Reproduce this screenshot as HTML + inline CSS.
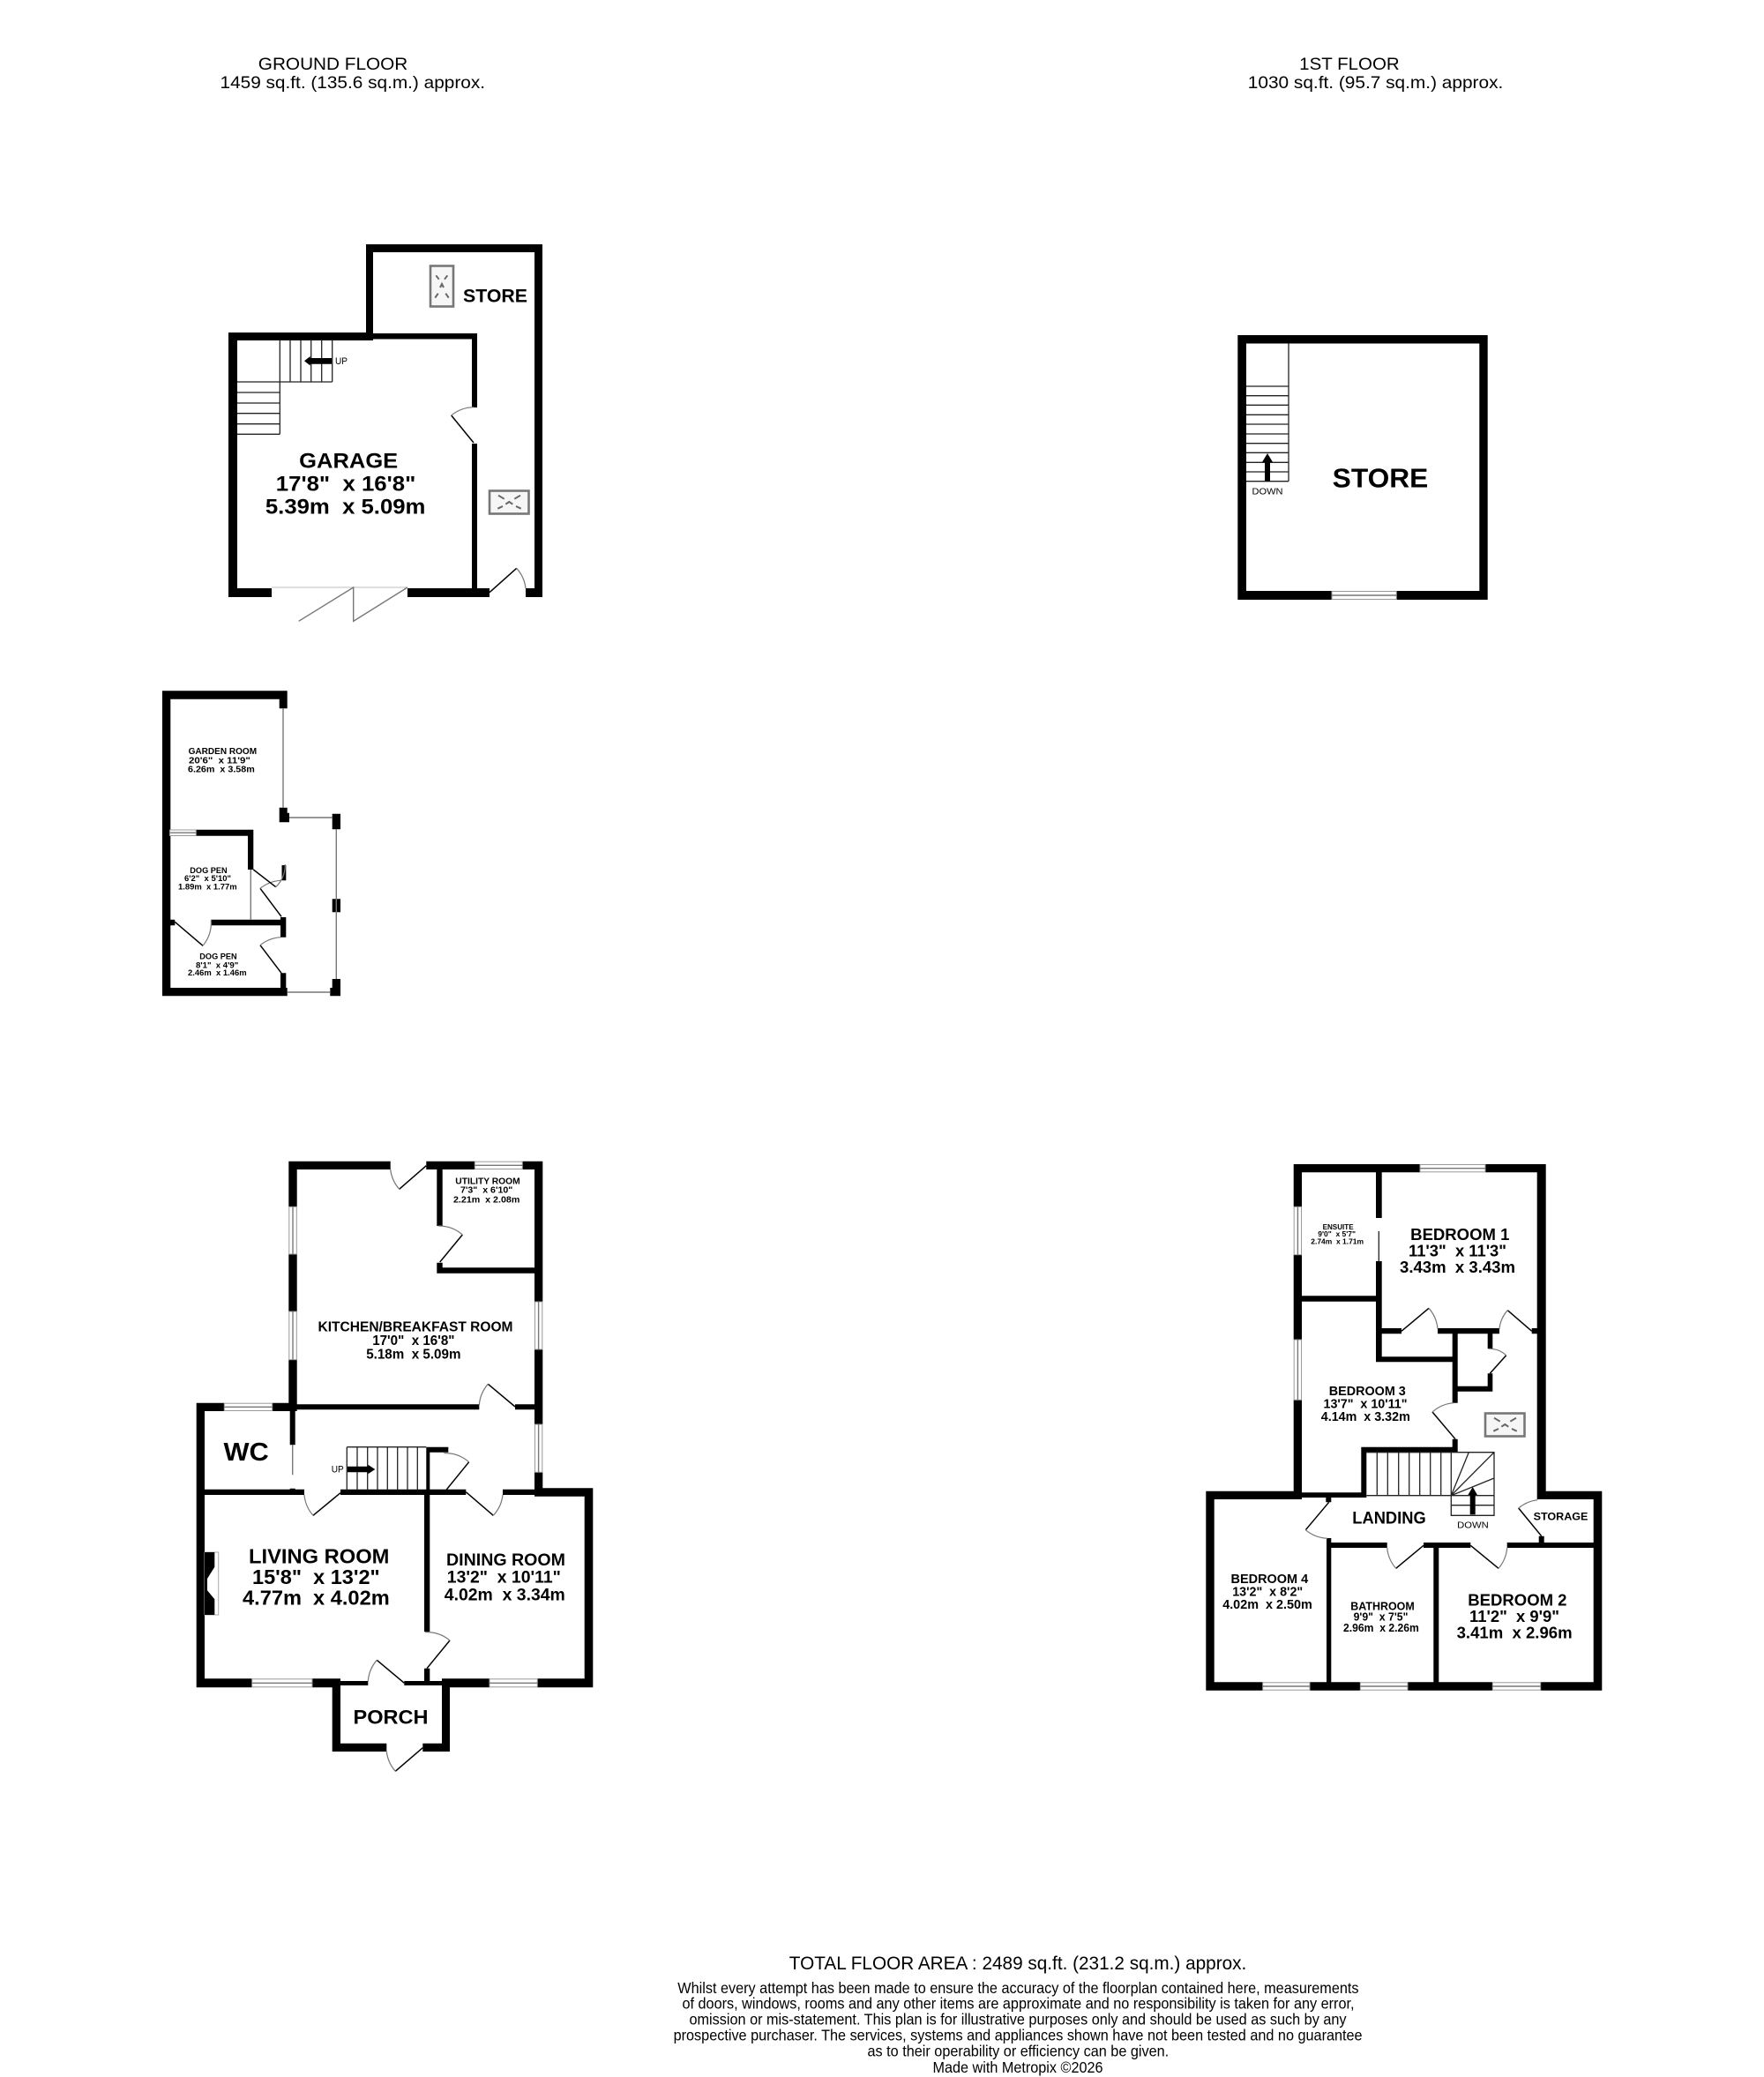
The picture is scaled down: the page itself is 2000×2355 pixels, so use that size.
<!DOCTYPE html>
<html><head><meta charset="utf-8"><title>Floor plan</title>
<style>
html,body{margin:0;padding:0;background:#fff}
svg{display:block}
text{font-family:"Liberation Sans",sans-serif;fill:#000;white-space:pre}
.b text,text.b{font-weight:bold}
.w{fill:#000}
.g{stroke:#8a8a8a;stroke-width:1.5;fill:none}
.l{stroke:#000;stroke-width:1.5;fill:none}
.a{stroke:#777;stroke-width:1.2;fill:none}
.s{stroke:#222;stroke-width:1.3;fill:none}
.win{fill:#fff;stroke:#999;stroke-width:1}
.sk{fill:#f6f6f6;stroke:#777;stroke-width:2.6}
.d{stroke:#777;stroke-width:1.4;fill:none}
.e{stroke:#666;stroke-width:2;fill:none}
.f{stroke:#ccc;stroke-width:1.2;fill:none}
</style></head><body>
<svg width="2000" height="2355" viewBox="0 0 2000 2355" xmlns="http://www.w3.org/2000/svg">
<rect width="2000" height="2355" fill="#fff"/>

<!-- Titles -->
<text x="292.8" y="79" font-size="19.5" textLength="169.5" lengthAdjust="spacingAndGlyphs">GROUND FLOOR</text>
<text x="249.5" y="100" font-size="19.5" textLength="300.5" lengthAdjust="spacingAndGlyphs">1459 sq.ft. (135.6 sq.m.) approx.</text>
<text x="1473.2" y="79" font-size="19.5" textLength="113.5" lengthAdjust="spacingAndGlyphs">1ST FLOOR</text>
<text x="1414.8" y="100" font-size="19.5" textLength="289.5" lengthAdjust="spacingAndGlyphs">1030 sq.ft. (95.7 sq.m.) approx.</text>

<!-- Garage / Store ground -->
<path class="w" d="M259 377H269V677H259Z M259 377H423V386H259Z M415 277H423V386H415Z M415 277H615V286H415Z M606 277H615V677H606Z M423 378H541V384.5H423Z M535 378H541V462H535Z M535 503H541V677H535Z M259 667H308V677H259Z M462 667H555V677H462Z M596 667H615V677H596Z"/>
<path class="s" d="M317.3 385V492.3M329 385V433M341 385V433M352.7 385V433M364.7 385V433M376.7 385V433M269 433H376.7M269 445H317.3M269 457H317.3M269 468.7H317.3M269 480.7H317.3M269 492.3H317.3"/>
<path class="w" d="M376 406V412.7H351.7V414.5L345 409.3L351.7 404V406Z"/>
<text x="380" y="413" font-size="11" textLength="14" lengthAdjust="spacingAndGlyphs">UP</text>
<path class="l" d="M537 502L511.7 471"/><path class="a" d="M511.7 471A41 41 0 0 1 537 461.7"/>
<path class="l" d="M555 671.7L585.7 644.3"/><path class="a" d="M585.7 644.3A41 41 0 0 1 596 667"/>
<path class="f" d="M308 666H462"/>
<path class="d" d="M462 666L400.7 704.3V666L338.7 704.3"/>
<g><rect class="sk" x="488" y="301.5" width="26" height="46"/>
<path class="e" d="M494.3 312.3L497.7 316.7M507.3 312.3L504 316.7M493.3 337.7L496.7 332.7M508.7 337.7L505.3 332.7M499 326L501 322L503 326"/></g>
<g><rect class="sk" x="555" y="556.5" width="44.5" height="26"/>
<path class="e" d="M565 561.7L571.7 565.7M590 561.7L583.3 565.7M564.3 576.7L570 574M590.7 576.7L585 574M573.3 571.7L577.3 569L581.3 571.7"/></g>
<g class="b">
<text x="339.2" y="530.7" font-size="24" textLength="112" lengthAdjust="spacingAndGlyphs">GARAGE</text>
<text x="312.8" y="556.7" font-size="24" textLength="158.5" lengthAdjust="spacingAndGlyphs">17'8&quot;  x 16'8&quot;</text>
<text x="300.9" y="582.3" font-size="24" textLength="181.5" lengthAdjust="spacingAndGlyphs">5.39m  x 5.09m</text>
<text x="525" y="342.7" font-size="21" textLength="73" lengthAdjust="spacingAndGlyphs">STORE</text>
</g>

<!-- Garden room -->
<path class="w" d="M184 783.3H193.3V1129.3H184Z M184 783.3H325.7V792.7H184Z M316.7 783.3H325.7V803.3H316.7Z M316.7 915.7H325.7V921.7H328V932.3H316.7Z M376.7 922.7H386V940.3H376.7Z M376.7 1019.3H386V1034.3H376.7Z M376.7 1110H386V1129.3H374.3V1120H376.7Z M184 1120H325.7V1129.3H184Z M222.3 940.7H287.3V947.7H222.3Z M281 940.7H287.3V986H281Z M239.3 1042.7H318V1049.3H239.3Z M193 1042.7H198.3V1049.3H193Z M318 1040H324.3V1062.7H318Z M318 1103.3H324.3V1120H318Z M319.5 981H324.3V998.3H319.5Z"/>
<path class="d" d="M321 803V916M328 927H376.7M381.3 940V1110M325.7 1125H374M284.3 986V1043"/>
<rect class="win" x="192.5" y="941" width="29.8" height="6.5"/><path class="d" d="M192.5 944.2H222"/>
<path class="l" d="M198.3 1045.3L230 1072.3"/><path class="a" d="M230 1072.3A41 41 0 0 0 239.3 1043.3"/>
<path class="l" d="M319 1039.3L295 1007.3"/><path class="a" d="M295 1007.3A41 41 0 0 1 318.3 998.3"/>
<path class="l" d="M287.3 986L312.7 1005.7"/><path class="a" d="M312.7 1005.7A34 34 0 0 0 323.3 980"/>
<path class="l" d="M319 1103.3L295 1071.7"/><path class="a" d="M295 1071.7A41 41 0 0 1 318.3 1062.7"/>
<g class="b">
<text x="213.6" y="855" font-size="10.5" textLength="77.5" lengthAdjust="spacingAndGlyphs">GARDEN ROOM</text>
<text x="214" y="865.5" font-size="10.5" textLength="69.8" lengthAdjust="spacingAndGlyphs">20'6&quot;  x 11'9&quot;</text>
<text x="213" y="875.7" font-size="10.5" textLength="75.8" lengthAdjust="spacingAndGlyphs">6.26m  x 3.58m</text>
<text x="215.3" y="990" font-size="9.5" textLength="42.4" lengthAdjust="spacingAndGlyphs">DOG PEN</text>
<text x="209" y="999" font-size="9.5" textLength="53" lengthAdjust="spacingAndGlyphs">6'2&quot;  x 5'10&quot;</text>
<text x="202" y="1008.3" font-size="9.5" textLength="66.6" lengthAdjust="spacingAndGlyphs">1.89m  x 1.77m</text>
<text x="226.3" y="1087.7" font-size="9.5" textLength="42.4" lengthAdjust="spacingAndGlyphs">DOG PEN</text>
<text x="222" y="1097.3" font-size="9.5" textLength="48.3" lengthAdjust="spacingAndGlyphs">8'1&quot;  x 4'9&quot;</text>
<text x="213" y="1106" font-size="9.5" textLength="66.6" lengthAdjust="spacingAndGlyphs">2.46m  x 1.46m</text>
</g>

<!-- Main house ground -->
<path class="w" d="M327.3 1316.7H336.7V1368.3H327.3Z M327.3 1422H336.7V1487H327.3Z M327.3 1541.7H336.7V1600H327.3Z M327.3 1316.7H442.7V1326H327.3Z M483.3 1316.7H538.3V1326H483.3Z M592.3 1316.7H615.3V1326H592.3Z M606 1316.7H615.3V1476H606Z M606 1530H615.3V1615H606Z M606 1669.3H615.3V1696.7H606Z M495.3 1316.7H501.7V1390H495.3Z M495.3 1431.7H501.7V1443.7H495.3Z M495.3 1437.3H606V1443.7H495.3Z M336.7 1592.3H543.3V1598.3H336.7Z M584 1592.3H606V1598.3H584Z M222.7 1590.7H232V1913.3H222.7Z M222.7 1590.7H254.3V1600H222.7Z M308.7 1590.7H327.3V1600H308.7Z M328.7 1598H334.7V1638.3H328.7Z M328.7 1687.7H334.7V1692H328.7Z M232 1688.7H345V1695H232Z M386 1688.7H528.3V1695H386Z M570 1688.7H606.7V1695H570Z M483.3 1640.7H487.3V1690H483.3Z M483.3 1640.7H508.3V1646.7H483.3Z M222.7 1903.3H285.7V1913.3H222.7Z M354 1903.3H386V1913.3H354Z M386 1906H417.3V1911H386Z M458.3 1906H501.7V1911H458.3Z M501 1903.3H555V1913.3H501Z M609.3 1903.3H672.3V1913.3H609.3Z M662.7 1687.3H672.3V1913.3H662.7Z M606 1687.3H672.3V1696.7H606Z M481 1690H487.3V1850H481Z M481 1891.7H487.3V1908H481Z M376.7 1906H386V1986H376.7Z M501 1906H510V1986H501Z M376.7 1976.7H438.3V1986H376.7Z M479.3 1976.7H510V1986H479.3Z"/>
<!-- windows -->
<g>
<rect class="win" x="327.8" y="1368.3" width="8.5" height="53.7"/><path class="d" d="M332 1368.3V1422"/>
<rect class="win" x="327.8" y="1487" width="8.5" height="54.7"/><path class="d" d="M332 1487V1541.7"/>
<rect class="win" x="538.3" y="1317.2" width="54" height="8.3"/><path class="d" d="M538.3 1321.3H592.3"/>
<rect class="win" x="606.5" y="1476" width="8.3" height="54"/><path class="d" d="M610.6 1476V1530"/>
<rect class="win" x="606.5" y="1615" width="8.3" height="54.3"/><path class="d" d="M610.6 1615V1669.3"/>
<rect class="win" x="254.3" y="1591.2" width="54.4" height="8.3"/><path class="d" d="M254.3 1595.3H308.7"/>
<rect class="win" x="285.7" y="1903.8" width="68.3" height="9"/><path class="d" d="M285.7 1908.3H354"/>
<rect class="win" x="555" y="1903.8" width="54.3" height="9"/><path class="d" d="M555 1908.3H609.3"/>
</g>
<path class="d" d="M331.7 1638V1672.3"/>
<path class="s" d="M393.3 1640.7H483.3M393.3 1640.7V1690M405 1640.7V1690M416.7 1640.7V1690M428 1640.7V1690M439.3 1640.7V1690M450.7 1640.7V1690M462 1640.7V1690M473.3 1640.7V1690"/>
<path class="w" d="M394 1662.7H417.3V1660.7L425.3 1666L417.3 1671.3V1669.3H394Z"/>
<text x="375.7" y="1669.5" font-size="11" textLength="14" lengthAdjust="spacingAndGlyphs">UP</text>
<path class="l" d="M483.3 1321.7L452.7 1348.3"/><path class="a" d="M452.7 1348.3A41 41 0 0 1 442.7 1326"/>
<path class="l" d="M498.7 1431L524.3 1400"/><path class="a" d="M524.3 1400A41 41 0 0 0 496.7 1390"/>
<path class="l" d="M584 1595L553.3 1569.3"/><path class="a" d="M553.3 1569.3A41 41 0 0 0 543.3 1593.3"/>
<path class="l" d="M386 1692.7L355 1718.3"/><path class="a" d="M355 1718.3A41 41 0 0 1 345 1695"/>
<path class="l" d="M506 1689.3L531.7 1657.7"/><path class="a" d="M531.7 1657.7A41 41 0 0 0 503.3 1647.7"/>
<path class="l" d="M528.3 1691.7L559.3 1718.3"/><path class="a" d="M559.3 1718.3A41 41 0 0 0 570 1695"/>
<path class="l" d="M484 1891.7L510 1860"/><path class="a" d="M510 1860A41 41 0 0 0 481.7 1850.7"/>
<path class="l" d="M458.3 1908.3L427.3 1882.3"/><path class="a" d="M427.3 1882.3A41 41 0 0 0 417.3 1906"/>
<path class="l" d="M479.3 1981.7L448.3 2008.3"/><path class="a" d="M448.3 2008.3A41 41 0 0 1 438.3 1986"/>
<rect x="232" y="1760" width="15.7" height="71" fill="#fff" stroke="#aaa" stroke-width="1"/>
<path class="w" d="M232 1760H243.3V1776.7L235 1790V1803.3L243.3 1813.3V1831H232Z"/>
<g class="b">
<text x="360.5" y="1509.3" font-size="15.5" textLength="221" lengthAdjust="spacingAndGlyphs">KITCHEN/BREAKFAST ROOM</text>
<text x="422.2" y="1525" font-size="15.5" textLength="93.3" lengthAdjust="spacingAndGlyphs">17'0&quot;  x 16'8&quot;</text>
<text x="415.2" y="1540.7" font-size="15.5" textLength="107.3" lengthAdjust="spacingAndGlyphs">5.18m  x 5.09m</text>
<text x="516.3" y="1342.7" font-size="10.5" textLength="73.4" lengthAdjust="spacingAndGlyphs">UTILITY ROOM</text>
<text x="522" y="1352.7" font-size="10.5" textLength="59.3" lengthAdjust="spacingAndGlyphs">7'3&quot;  x 6'10&quot;</text>
<text x="514" y="1363.3" font-size="10.5" textLength="75.3" lengthAdjust="spacingAndGlyphs">2.21m  x 2.08m</text>
<text x="253.5" y="1656" font-size="29" textLength="51.3" lengthAdjust="spacingAndGlyphs">WC</text>
<text x="282" y="1772.7" font-size="23" textLength="159.4" lengthAdjust="spacingAndGlyphs">LIVING ROOM</text>
<text x="286" y="1796" font-size="23" textLength="144.7" lengthAdjust="spacingAndGlyphs">15'8&quot;  x 13'2&quot;</text>
<text x="275" y="1819.3" font-size="23" textLength="166.7" lengthAdjust="spacingAndGlyphs">4.77m  x 4.02m</text>
<text x="506" y="1775" font-size="19.5" textLength="135" lengthAdjust="spacingAndGlyphs">DINING ROOM</text>
<text x="506.8" y="1794.7" font-size="19.5" textLength="129" lengthAdjust="spacingAndGlyphs">13'2&quot;  x 10'11&quot;</text>
<text x="503.8" y="1814.3" font-size="19.5" textLength="137" lengthAdjust="spacingAndGlyphs">4.02m  x 3.34m</text>
<text x="400.5" y="1954.3" font-size="22" textLength="85" lengthAdjust="spacingAndGlyphs">PORCH</text>
</g>

<!-- First floor store -->
<path class="w" d="M1403.3 380H1686.7V389.5H1403.3Z M1403.3 380H1413V680H1403.3Z M1677.3 380H1686.7V680H1677.3Z M1403.3 670H1510V680H1403.3Z M1583.3 670H1686.7V680H1583.3Z"/>
<rect class="win" x="1510" y="670.5" width="73.3" height="9"/><path class="d" d="M1510 675H1583.3"/>
<path class="s" d="M1461 389.5V545.7M1413 438H1461M1413 448.7H1461M1413 459.3H1461M1413 470.3H1461M1413 481H1461M1413 492H1461M1413 502.7H1461M1413 513.3H1461M1413 524.3H1461M1413 535H1461M1413 545.7H1461"/>
<path class="w" d="M1434 545.7V524H1431L1437 514L1443 524H1440V545.7Z"/>
<text x="1419.5" y="560.3" font-size="10.5" textLength="35" lengthAdjust="spacingAndGlyphs">DOWN</text>
<text class="b" x="1510.7" y="552.7" font-size="31" textLength="108.6" lengthAdjust="spacingAndGlyphs">STORE</text>

<!-- First floor main -->
<path class="w" d="M1466.7 1320H1610V1329.3H1466.7Z M1684 1320H1752.7V1329.3H1684Z M1466.7 1320H1476V1368.3H1466.7Z M1466.7 1422.7H1476V1519H1466.7Z M1466.7 1587.3H1476V1700H1466.7Z M1742.7 1320H1752.7V1700H1742.7Z M1560 1329H1566.7V1381H1560Z M1560 1430H1566.7V1544.3H1560Z M1476 1469.3H1560V1475.7H1476Z M1566.7 1506H1589V1512.3H1566.7Z M1630 1506H1700V1512.3H1630Z M1736.7 1506H1742.7V1512.3H1736.7Z M1560 1538.3H1652.7V1544.3H1560Z M1646.7 1506H1652.7V1590.7H1646.7Z M1646.7 1631.7H1652.7V1646.7H1646.7Z M1652.7 1571.7H1692.3V1577.7H1652.7Z M1686.7 1512H1692.3V1529.3H1686.7Z M1686.7 1557.3H1692.3V1577.7H1686.7Z M1543.3 1640.7H1652.7V1646.7H1543.3Z M1543.3 1640.7H1549.3V1698H1543.3Z M1466.7 1692.3H1549.3V1698H1466.7Z M1367.3 1690.7H1476V1700H1367.3Z M1367.3 1690.7H1376.7V1916.7H1367.3Z M1367.3 1907.3H1431.7V1916.7H1367.3Z M1485 1907.3H1542.3V1916.7H1485Z M1596 1907.3H1692.3V1916.7H1596Z M1746.7 1907.3H1816.3V1916.7H1746.7Z M1806.7 1690.7H1816.3V1916.7H1806.7Z M1752.7 1690.7H1816.3V1700H1752.7Z M1504 1749H1572.7V1755H1504Z M1614 1749H1667.3V1755H1614Z M1708.7 1749H1806.7V1755H1708.7Z M1504 1744H1509.3V1907.3H1504Z M1625.3 1749H1631.3V1907.3H1625.3Z M1503.3 1697.3H1509.3V1703.3H1503.3Z M1744.7 1741.7H1750.7V1749H1744.7Z"/>
<g>
<rect class="win" x="1610" y="1320.5" width="74" height="8.3"/><path class="d" d="M1610 1324.7H1684"/>
<rect class="win" x="1467.2" y="1368.3" width="8.3" height="54.4"/><path class="d" d="M1471.4 1368.3V1422.7"/>
<rect class="win" x="1467.2" y="1519" width="8.3" height="68.3"/><path class="d" d="M1471.4 1519V1587.3"/>
<rect class="win" x="1431.7" y="1907.8" width="53.3" height="8.4"/><path class="d" d="M1431.7 1912H1485"/>
<rect class="win" x="1542.3" y="1907.8" width="53.7" height="8.4"/><path class="d" d="M1542.3 1912H1596"/>
<rect class="win" x="1692.3" y="1907.8" width="54.4" height="8.4"/><path class="d" d="M1692.3 1912H1746.7"/>
</g>
<path class="s" d="M1563.3 1396V1430"/>
<path class="s" d="M1549.3 1646.7H1694V1718.3H1645.3V1695.7H1549.3M1561.3 1646.7V1695.7M1573.3 1646.7V1695.7M1585.7 1646.7V1695.7M1597.7 1646.7V1695.7M1609.7 1646.7V1695.7M1621.7 1646.7V1695.7M1633.7 1646.7V1695.7M1645.3 1646.7V1695.7M1645.3 1695.7L1665.3 1646.7M1645.3 1695.7L1694 1646.7M1645.3 1695.7L1694 1676M1645.3 1695.7H1694M1645.3 1706.7H1694"/>
<path class="w" d="M1666.7 1717.3V1695H1664.4L1669.7 1686L1675 1695H1672.7V1717.3Z"/>
<text x="1652.2" y="1732.3" font-size="10.5" textLength="35.6" lengthAdjust="spacingAndGlyphs">DOWN</text>
<g transform="translate(1129 1046)"><rect class="sk" x="555" y="556.5" width="44.5" height="26"/>
<path class="e" d="M565 561.7L571.7 565.7M590 561.7L583.3 565.7M564.3 576.7L570 574M590.7 576.7L585 574M573.3 571.7L577.3 569L581.3 571.7"/></g>
<path class="l" d="M1589 1509.3L1620 1483.3"/><path class="a" d="M1620 1483.3A41 41 0 0 1 1630 1506.7"/>
<path class="l" d="M1736.7 1509.3L1709.3 1485.7"/><path class="a" d="M1709.3 1485.7A37 37 0 0 0 1700 1506.7"/>
<path class="l" d="M1650 1631.7L1624 1601"/><path class="a" d="M1624 1601A41 41 0 0 1 1648.3 1590.7"/>
<path class="l" d="M1689.3 1557.3L1707.7 1536.7"/><path class="a" d="M1707.7 1536.7A28 28 0 0 0 1688.3 1529.3"/>
<path class="l" d="M1506.7 1703.3L1480.3 1734.7"/><path class="a" d="M1480.3 1734.7A41 41 0 0 0 1505 1744.3"/>
<path class="l" d="M1747.7 1741.7L1721.7 1710"/><path class="a" d="M1721.7 1710A41 41 0 0 1 1743.3 1700.7"/>
<path class="l" d="M1614 1752.3L1582.7 1778.3"/><path class="a" d="M1582.7 1778.3A41 41 0 0 1 1572.7 1755"/>
<path class="l" d="M1667.3 1752.3L1699 1778.3"/><path class="a" d="M1699 1778.3A41 41 0 0 0 1708.7 1755"/>
<g class="b">
<text x="1499.6" y="1394" font-size="8" textLength="35" lengthAdjust="spacingAndGlyphs">ENSUITE</text>
<text x="1494.3" y="1402" font-size="8" textLength="42.7" lengthAdjust="spacingAndGlyphs">9'0&quot;  x 5'7&quot;</text>
<text x="1486.3" y="1410.7" font-size="8" textLength="59.7" lengthAdjust="spacingAndGlyphs">2.74m  x 1.71m</text>
<text x="1599.2" y="1406" font-size="18.5" textLength="112.2" lengthAdjust="spacingAndGlyphs">BEDROOM 1</text>
<text x="1597" y="1424.3" font-size="18.5" textLength="111" lengthAdjust="spacingAndGlyphs">11'3&quot;  x 11'3&quot;</text>
<text x="1587" y="1443" font-size="18.5" textLength="131" lengthAdjust="spacingAndGlyphs">3.43m  x 3.43m</text>
<text x="1506.8" y="1582" font-size="14.5" textLength="87" lengthAdjust="spacingAndGlyphs">BEDROOM 3</text>
<text x="1500.5" y="1596.7" font-size="14.5" textLength="95" lengthAdjust="spacingAndGlyphs">13'7&quot;  x 10'11&quot;</text>
<text x="1497.8" y="1611" font-size="14.5" textLength="101" lengthAdjust="spacingAndGlyphs">4.14m  x 3.32m</text>
<text x="1533.3" y="1727.7" font-size="19" textLength="83.4" lengthAdjust="spacingAndGlyphs">LANDING</text>
<text x="1738.6" y="1723.3" font-size="12" textLength="61.8" lengthAdjust="spacingAndGlyphs">STORAGE</text>
<text x="1395.5" y="1795" font-size="14.5" textLength="87.7" lengthAdjust="spacingAndGlyphs">BEDROOM 4</text>
<text x="1397.2" y="1809.7" font-size="14.5" textLength="80" lengthAdjust="spacingAndGlyphs">13'2&quot;  x 8'2&quot;</text>
<text x="1386.2" y="1824" font-size="14.5" textLength="101.6" lengthAdjust="spacingAndGlyphs">4.02m  x 2.50m</text>
<text x="1531.3" y="1825.3" font-size="12.5" textLength="72.4" lengthAdjust="spacingAndGlyphs">BATHROOM</text>
<text x="1534.6" y="1837.7" font-size="12.5" textLength="61.8" lengthAdjust="spacingAndGlyphs">9'9&quot;  x 7'5&quot;</text>
<text x="1523" y="1850" font-size="12.5" textLength="85.8" lengthAdjust="spacingAndGlyphs">2.96m  x 2.26m</text>
<text x="1664.3" y="1820.7" font-size="18.5" textLength="112.2" lengthAdjust="spacingAndGlyphs">BEDROOM 2</text>
<text x="1666" y="1839" font-size="18.5" textLength="102" lengthAdjust="spacingAndGlyphs">11'2&quot;  x 9'9&quot;</text>
<text x="1651.6" y="1857.7" font-size="18.5" textLength="131" lengthAdjust="spacingAndGlyphs">3.41m  x 2.96m</text>
</g>

<!-- Footer -->
<text x="894.8" y="2233" font-size="21" textLength="518.5" lengthAdjust="spacingAndGlyphs">TOTAL FLOOR AREA : 2489 sq.ft. (231.2 sq.m.) approx.</text>
<text x="768.3" y="2260" font-size="17.5" textLength="772.2" lengthAdjust="spacingAndGlyphs">Whilst every attempt has been made to ensure the accuracy of the floorplan contained here, measurements</text>
<text x="773.5" y="2277.7" font-size="17.5" textLength="762" lengthAdjust="spacingAndGlyphs">of doors, windows, rooms and any other items are approximate and no responsibility is taken for any error,</text>
<text x="781.5" y="2295.7" font-size="17.5" textLength="745" lengthAdjust="spacingAndGlyphs">omission or mis-statement. This plan is for illustrative purposes only and should be used as such by any</text>
<text x="763.6" y="2313.3" font-size="17.5" textLength="781" lengthAdjust="spacingAndGlyphs">prospective purchaser. The services, systems and appliances shown have not been tested and no guarantee</text>
<text x="983.5" y="2331.7" font-size="17.5" textLength="341.7" lengthAdjust="spacingAndGlyphs">as to their operability or efficiency can be given.</text>
<text x="1057.5" y="2350" font-size="17.5" textLength="193" lengthAdjust="spacingAndGlyphs">Made with Metropix ©2026</text>
</svg>
</body></html>
